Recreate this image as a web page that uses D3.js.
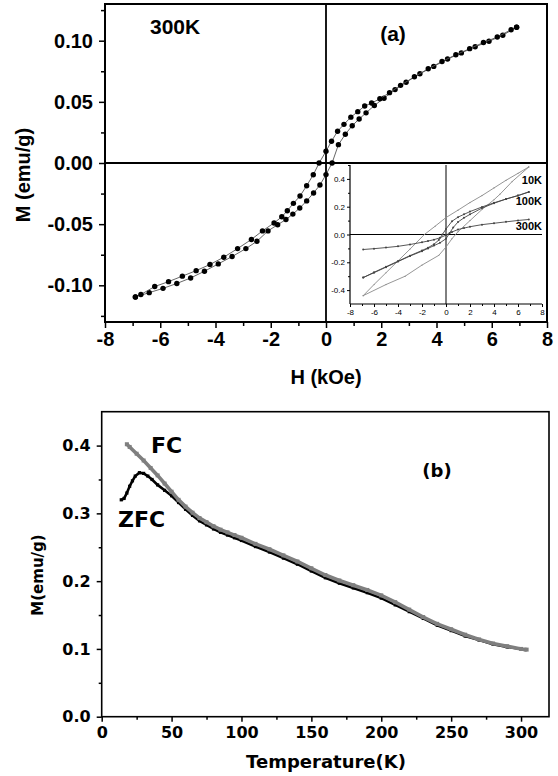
<!DOCTYPE html>
<html>
<head>
<meta charset="utf-8">
<script src="https://cdn.jsdelivr.net/npm/d3@7"></script>
<style>
    body { margin: 0; background: #fff; }
    svg { display: block; }
</style>
</head>
<body>
<svg id="fig" width="558" height="776"></svg>
<script>
// ---- panel (a): M-H loop at 300K ----
const loopAscH = [-6.9,-6.4,-5.9,-5.4,-4.9,-4.4,-3.9,-3.4,-2.9,-2.5,-2.1,-1.75,-1.45,-1.2,-0.95,-0.7,-0.45,-0.22,0.0,0.22,0.45,0.7,0.95,1.2,1.45,1.75,2.1,2.5,2.9,3.4,3.9,4.4,4.9,5.4,5.9,6.4,6.9];
const loopAscM = [-0.1095,-0.1060,-0.1025,-0.0985,-0.0940,-0.0885,-0.0825,-0.0765,-0.0700,-0.0640,-0.0555,-0.0505,-0.0462,-0.0418,-0.0368,-0.0310,-0.0245,-0.0180,-0.0095,0.0000,0.0150,0.0235,0.0305,0.0360,0.0410,0.0470,0.0530,0.0600,0.0660,0.0730,0.0790,0.0850,0.0900,0.0950,0.0995,0.1045,0.1110];
const loopDescH = [6.9,6.7,6.2,5.7,5.2,4.7,4.2,3.7,3.2,2.7,2.3,1.95,1.65,1.4,1.15,0.9,0.65,0.42,0.2,0.0,-0.25,-0.46,-0.7,-0.94,-1.18,-1.4,-1.6,-1.88,-2.3,-2.7,-3.2,-3.7,-4.2,-4.7,-5.2,-5.7,-6.2,-6.7,-6.9];
const loopDescM = [0.1110,0.1090,0.1030,0.0985,0.0935,0.0885,0.0830,0.0770,0.0705,0.0635,0.0575,0.0525,0.0490,0.0466,0.0420,0.0375,0.0316,0.0260,0.0178,0.0096,0.0000,-0.0096,-0.0186,-0.0270,-0.0330,-0.0390,-0.0440,-0.0490,-0.0555,-0.0625,-0.0700,-0.0770,-0.0830,-0.0880,-0.0925,-0.0970,-0.1010,-0.1075,-0.1095];

// inset loops (10K, 100K, 300K)
const in10AscH = [-6.9,-5,-3.4,-2,-0.6,0,0.5,1,2,3,4,4.5,5.5,6.9];
const in10AscM = [-0.44,-0.36,-0.30,-0.22,-0.15,-0.09,-0.03,0.02,0.10,0.18,0.25,0.29,0.38,0.486];
const in10DescH = [6.9,6,5,4,3,2,1,0,-0.9,-1.8,-3,-4,-5,-6,-6.9];
const in10DescM = [0.486,0.44,0.39,0.335,0.28,0.23,0.175,0.122,0.06,0.0,-0.105,-0.19,-0.275,-0.36,-0.44];
const in100AscH = [-6.9,-6,-5,-4,-3,-2,-1.5,-1,-0.5,0,0.3,0.6,1,1.5,2,3,4,5,6,6.9];
const in100AscM = [-0.31,-0.275,-0.235,-0.195,-0.155,-0.12,-0.10,-0.08,-0.06,-0.03,0.01,0.05,0.09,0.12,0.145,0.19,0.225,0.255,0.28,0.306];
const in100DescH = [6.9,6,5,4,3,2,1.5,1,0.5,0,-0.3,-0.6,-1,-1.5,-2,-3,-4,-5,-6,-6.9];
const in100DescM = [0.306,0.28,0.255,0.228,0.198,0.165,0.145,0.125,0.095,0.04,0.0,-0.04,-0.07,-0.095,-0.115,-0.152,-0.192,-0.232,-0.272,-0.31];
const in300H = [-6.9,-6,-5,-4,-3,-2,-1.5,-1,-0.5,0,0.5,1,1.5,2,3,4,5,6,6.9];
const in300M = [-0.108,-0.102,-0.094,-0.085,-0.072,-0.056,-0.047,-0.037,-0.024,-0.004,0.018,0.036,0.046,0.056,0.071,0.081,0.091,0.101,0.108];

// ---- panel (b): ZFC / FC ----
const zfcT = [14,16,18,20,22,24,27,30,33,36,40,45,50,55,60,65,70,75,80,85,90,95,100,110,120,130,140,150,160,170,180,190,200,210,220,230,240,250,260,270,280,290,300,303];
const zfcM = [0.320,0.322,0.330,0.340,0.348,0.355,0.360,0.359,0.355,0.350,0.342,0.334,0.326,0.316,0.306,0.297,0.289,0.283,0.277,0.272,0.268,0.264,0.260,0.251,0.243,0.234,0.225,0.215,0.205,0.197,0.190,0.183,0.175,0.165,0.155,0.145,0.135,0.127,0.119,0.113,0.107,0.103,0.100,0.099];
const fcT = [18,20,25,30,35,40,45,50,55,60,65,70,75,80,85,90,95,100,110,120,130,140,150,160,170,180,190,200,210,220,230,240,250,260,270,280,290,300,304];
const fcM = [0.402,0.398,0.388,0.378,0.367,0.356,0.344,0.332,0.320,0.310,0.301,0.293,0.287,0.281,0.276,0.272,0.268,0.264,0.255,0.247,0.238,0.229,0.219,0.209,0.201,0.194,0.187,0.179,0.169,0.158,0.147,0.137,0.129,0.121,0.114,0.108,0.104,0.100,0.099];

const zip = (xs, ys) => xs.map((x, i) => ({x: x, y: ys[i]}));

const svg = d3.select("#fig");
const fontA = "'Liberation Sans', Arial, sans-serif";
const fontB = "'DejaVu Sans', Verdana, sans-serif";

function styleAxis(g, font, size, weight) {
    g.select(".domain").remove();
    g.selectAll("line").attr("stroke", "#000").attr("stroke-width", 1.5);
    g.selectAll("text")
        .attr("fill", "#000")
        .style("font-family", font)
        .style("font-size", size + "px")
        .style("font-weight", weight);
}

// ================= panel (a) =================
const xA = d3.scaleLinear().domain([-8, 8]).range([105, 547]);
const yA = d3.scaleLinear().domain([-0.13, 0.13]).range([322, 4]);

const gA = svg.append("g").attr("class", "panel-a");

// minor ticks
gA.append("g").attr("transform", "translate(0,322)")
    .call(d3.axisBottom(xA).tickValues(d3.range(-7, 8, 2)).tickSize(4).tickFormat(""))
    .call(g => styleAxis(g, fontA, 20, "bold"));
gA.append("g").attr("transform", "translate(105,0)")
    .call(d3.axisLeft(yA).tickValues([-0.125,-0.075,-0.025,0.025,0.075,0.125]).tickSize(4).tickFormat(""))
    .call(g => styleAxis(g, fontA, 20, "bold"));
// major ticks
gA.append("g").attr("transform", "translate(0,322)")
    .call(d3.axisBottom(xA).tickValues(d3.range(-8, 9, 2)).tickSize(6).tickPadding(4).tickFormat(d => String(d)))
    .call(g => styleAxis(g, fontA, 20, "bold"));
gA.append("g").attr("transform", "translate(105,0)")
    .call(d3.axisLeft(yA).tickValues([-0.10,-0.05,0,0.05,0.10]).tickSize(6).tickPadding(6).tickFormat(d => d.toFixed(2)))
    .call(g => styleAxis(g, fontA, 20, "bold"));

// frame + zero lines
gA.append("rect")
    .attr("x", xA(-8)).attr("y", yA(0.13))
    .attr("width", xA(8) - xA(-8)).attr("height", yA(-0.13) - yA(0.13))
    .attr("fill", "none").attr("stroke", "#000").attr("stroke-width", 2);
gA.append("line").attr("x1", xA(-8)).attr("x2", xA(8)).attr("y1", yA(0)).attr("y2", yA(0))
    .attr("stroke", "#000").attr("stroke-width", 1.8);
gA.append("line").attr("x1", xA(0)).attr("x2", xA(0)).attr("y1", yA(0.13)).attr("y2", yA(-0.13))
    .attr("stroke", "#000").attr("stroke-width", 1.8);

// loop
const lineA = d3.line().x(d => xA(d.x)).y(d => yA(d.y));
[zip(loopAscH, loopAscM), zip(loopDescH, loopDescM)].forEach(function (branch) {
    gA.append("path").datum(branch)
        .attr("d", lineA).attr("fill", "none")
        .attr("stroke", "#555").attr("stroke-width", 0.9);
    gA.append("g").selectAll("circle").data(branch).enter().append("circle")
        .attr("cx", d => xA(d.x)).attr("cy", d => yA(d.y))
        .attr("r", 2.7).attr("fill", "#000");
});

// labels
gA.append("text").text("300K").attr("x", 150).attr("y", 34)
    .style("font-family", fontA).style("font-size", "21px").style("font-weight", "bold");
gA.append("text").text("(a)").attr("x", 393).attr("y", 41).attr("text-anchor", "middle")
    .style("font-family", fontA).style("font-size", "21px").style("font-weight", "bold");
gA.append("text").text("H (kOe)").attr("x", 326).attr("y", 384).attr("text-anchor", "middle")
    .style("font-family", fontA).style("font-size", "20px").style("font-weight", "bold");
gA.append("text").text("M (emu/g)")
    .attr("transform", "translate(30,175) rotate(-90)").attr("text-anchor", "middle")
    .style("font-family", fontA).style("font-size", "20px").style("font-weight", "bold");

// ---- inset ----
const xI = d3.scaleLinear().domain([-8, 8]).range([350, 542]);
const yI = d3.scaleLinear().domain([-0.5, 0.5]).range([304, 165]);
const gI = svg.append("g").attr("class", "inset");

gI.append("g").attr("transform", "translate(0,304)")
    .call(d3.axisBottom(xI).tickValues(d3.range(-7, 8, 2)).tickSize(2).tickFormat(""))
    .call(g => styleAxis(g, fontA, 8, "normal"));
gI.append("g").attr("transform", "translate(350,0)")
    .call(d3.axisLeft(yI).tickValues([-0.3,-0.1,0.1,0.3,0.5]).tickSize(2).tickFormat(""))
    .call(g => styleAxis(g, fontA, 8, "normal"));
gI.append("g").attr("transform", "translate(0,304)")
    .call(d3.axisBottom(xI).tickValues(d3.range(-8, 9, 2)).tickSize(3).tickPadding(2).tickFormat(d => String(d)))
    .call(g => styleAxis(g, fontA, 8, "normal"));
gI.append("g").attr("transform", "translate(350,0)")
    .call(d3.axisLeft(yI).tickValues([-0.4,-0.2,0,0.2,0.4]).tickSize(3).tickPadding(2).tickFormat(d => d.toFixed(1)))
    .call(g => styleAxis(g, fontA, 8, "normal"));
gI.selectAll("line").attr("stroke-width", 1);

gI.append("line").attr("x1", xI(-8)).attr("x2", xI(8)).attr("y1", yI(-0.5)).attr("y2", yI(-0.5))
    .attr("stroke", "#000").attr("stroke-width", 1.2);
gI.append("line").attr("x1", xI(-8)).attr("x2", xI(-8)).attr("y1", yI(0.5)).attr("y2", yI(-0.5))
    .attr("stroke", "#000").attr("stroke-width", 1.2);
gI.append("line").attr("x1", xI(-8)).attr("x2", xI(8)).attr("y1", yI(0)).attr("y2", yI(0))
    .attr("stroke", "#000").attr("stroke-width", 1);
gI.append("line").attr("x1", xI(0)).attr("x2", xI(0)).attr("y1", yI(0.5)).attr("y2", yI(-0.5))
    .attr("stroke", "#000").attr("stroke-width", 1);

const lineI = d3.line().x(d => xI(d.x)).y(d => yI(d.y));
const insetSeries = [
    {data: zip(in10AscH, in10AscM), color: "#8a8a8a", r: 0.6},
    {data: zip(in10DescH, in10DescM), color: "#8a8a8a", r: 0.6},
    {data: zip(in100AscH, in100AscM), color: "#444", r: 1},
    {data: zip(in100DescH, in100DescM), color: "#444", r: 1},
    {data: zip(in300H, in300M), color: "#444", r: 1}
];
insetSeries.forEach(function (s) {
    gI.append("path").datum(s.data).attr("d", lineI)
        .attr("fill", "none").attr("stroke", s.color).attr("stroke-width", 0.9);
    gI.append("g").selectAll("circle").data(s.data).enter().append("circle")
        .attr("cx", d => xI(d.x)).attr("cy", d => yI(d.y))
        .attr("r", s.r).attr("fill", s.color);
});
[["10K", 184], ["100K", 205], ["300K", 230]].forEach(function (l) {
    gI.append("text").text(l[0]).attr("x", 542).attr("y", l[1]).attr("text-anchor", "end")
        .style("font-family", fontA).style("font-size", "11px").style("font-weight", "bold");
});

// ================= panel (b) =================
const xB = d3.scaleLinear().domain([0, 320]).range([101.7, 549]);
const yB = d3.scaleLinear().domain([0, 0.45]).range([716.7, 411.7]);
const gB = svg.append("g").attr("class", "panel-b");

gB.append("g").attr("transform", "translate(0,716.7)")
    .call(d3.axisBottom(xB).tickValues(d3.range(25, 320, 50)).tickSize(3).tickFormat(""))
    .call(g => styleAxis(g, fontB, 16, "bold"));
gB.append("g").attr("transform", "translate(101.7,0)")
    .call(d3.axisLeft(yB).tickValues([0.05,0.15,0.25,0.35]).tickSize(3).tickFormat(""))
    .call(g => styleAxis(g, fontB, 16, "bold"));
gB.append("g").attr("transform", "translate(0,716.7)")
    .call(d3.axisBottom(xB).tickValues(d3.range(0, 301, 50)).tickSize(5).tickPadding(5).tickFormat(d => String(d)))
    .call(g => styleAxis(g, fontB, 16, "bold"));
gB.append("g").attr("transform", "translate(101.7,0)")
    .call(d3.axisLeft(yB).tickValues([0,0.1,0.2,0.3,0.4]).tickSize(5).tickPadding(6).tickFormat(d => d.toFixed(1)))
    .call(g => styleAxis(g, fontB, 16, "bold"));

gB.append("rect")
    .attr("x", xB(0)).attr("y", yB(0.45))
    .attr("width", xB(320) - xB(0)).attr("height", yB(0) - yB(0.45))
    .attr("fill", "none").attr("stroke", "#000").attr("stroke-width", 1.6);

const lineB = d3.line().x(d => xB(d.x)).y(d => yB(d.y));
const zfc = zip(zfcT, zfcM);
const fc = zip(fcT, fcM);

gB.append("path").datum(zfc).attr("d", lineB)
    .attr("fill", "none").attr("stroke", "#000").attr("stroke-width", 2.6);
gB.append("g").selectAll("rect").data(zfc).enter().append("rect")
    .attr("x", d => xB(d.x) - 1.6).attr("y", d => yB(d.y) - 1.6)
    .attr("width", 3.2).attr("height", 3.2).attr("fill", "#000");

gB.append("path").datum(fc).attr("d", lineB)
    .attr("fill", "none").attr("stroke", "#7f7f7f").attr("stroke-width", 3.6);
gB.append("g").selectAll("rect").data(fc).enter().append("rect")
    .attr("x", d => xB(d.x) - 2).attr("y", d => yB(d.y) - 2)
    .attr("width", 4).attr("height", 4).attr("fill", "#7f7f7f");

gB.append("text").text("FC").attr("x", 151).attr("y", 453)
    .style("font-family", fontB).style("font-size", "22px").style("font-weight", "bold");
gB.append("text").text("ZFC").attr("x", 118).attr("y", 527)
    .style("font-family", fontB).style("font-size", "22px").style("font-weight", "bold");
gB.append("text").text("(b)").attr("x", 437).attr("y", 477).attr("text-anchor", "middle")
    .style("font-family", fontB).style("font-size", "18px").style("font-weight", "bold");
gB.append("text").text("Temperature(K)").attr("x", 326).attr("y", 768).attr("text-anchor", "middle")
    .style("font-family", fontB).style("font-size", "18px").style("font-weight", "bold");
gB.append("text").text("M(emu/g)")
    .attr("transform", "translate(43,575) rotate(-90)").attr("text-anchor", "middle")
    .style("font-family", fontB).style("font-size", "15px").style("font-weight", "bold");
</script>
</body>
</html>
